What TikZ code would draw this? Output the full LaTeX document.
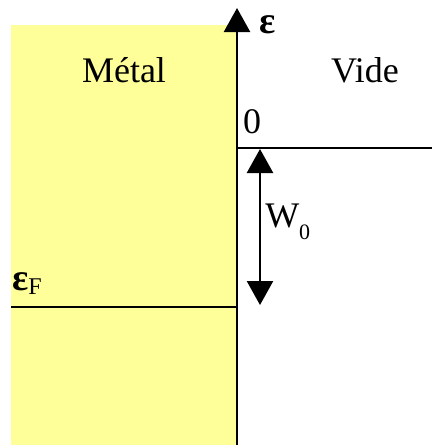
\documentclass[tikz,border=0pt]{standalone}
\usepackage{fontspec}
\setmainfont{Liberation Serif}
\usepackage{tikz}
\usetikzlibrary{positioning,arrows.meta}

\definecolor{metalyellow}{HTML}{FFFF99}

\begin{document}
\begin{tikzpicture}[
x=1pt,y=-1pt,
>={Triangle[width=26pt,length=24pt]},
line width=2.5pt,
txt/.style={
font=\fontsize{36}{40}\selectfont,
inner sep=0pt,
anchor=base
},
sym/.style={
font=\fontsize{38}{42}\selectfont\bfseries,
inner sep=0pt,
anchor=base west
}
]

\useasboundingbox (0,0) rectangle (432,445);

%%%%%%%%%%%%%%%%%%%%%%%%%%%%%%%%%%%%%%%%%%%%%
% Metal
%%%%%%%%%%%%%%%%%%%%%%%%%%%%%%%%%%%%%%%%%%%%%

\fill[metalyellow] (11,25) rectangle (237,445);

\node[txt] (metal) at (124,82) {Métal};

\node[txt] (vide) at (365,82) {Vide};

%%%%%%%%%%%%%%%%%%%%%%%%%%%%%%%%%%%%%%%%%%%%%
% Energy axis
%%%%%%%%%%%%%%%%%%%%%%%%%%%%%%%%%%%%%%%%%%%%%

\coordinate (axisbot) at (237,445);
\coordinate (axistop) at (237,8);

\draw[->] (axisbot)--(axistop);

\node[sym] (eps) at (258,33) {ε};

%%%%%%%%%%%%%%%%%%%%%%%%%%%%%%%%%%%%%%%%%%%%%
% Levels
%%%%%%%%%%%%%%%%%%%%%%%%%%%%%%%%%%%%%%%%%%%%%

\coordinate (vacleft) at (237,148);
\coordinate (vacright) at (432,148);

\draw (vacleft)--(vacright);

\node[txt] (zero) at (252,133) {0};

\coordinate (fermileft) at (11,307);
\coordinate (fermiright) at (237,307);

\draw (fermileft)--(fermiright);

\node[sym] (epsF) at (11,290) {ε\raisebox{-4pt}{\fontsize{24}{26}\selectfont\mdseries F}};

%%%%%%%%%%%%%%%%%%%%%%%%%%%%%%%%%%%%%%%%%%%%%
% Work function
%%%%%%%%%%%%%%%%%%%%%%%%%%%%%%%%%%%%%%%%%%%%%

\coordinate (wtop) at (260,149);
\coordinate (wbot) at (260,305);

\draw[<->] (wtop)--(wbot);

\node[txt,anchor=base west] (work) at (264,227) {W\raisebox{-12pt}{\fontsize{22}{24}\selectfont 0}};

\end{tikzpicture}
\end{document}
